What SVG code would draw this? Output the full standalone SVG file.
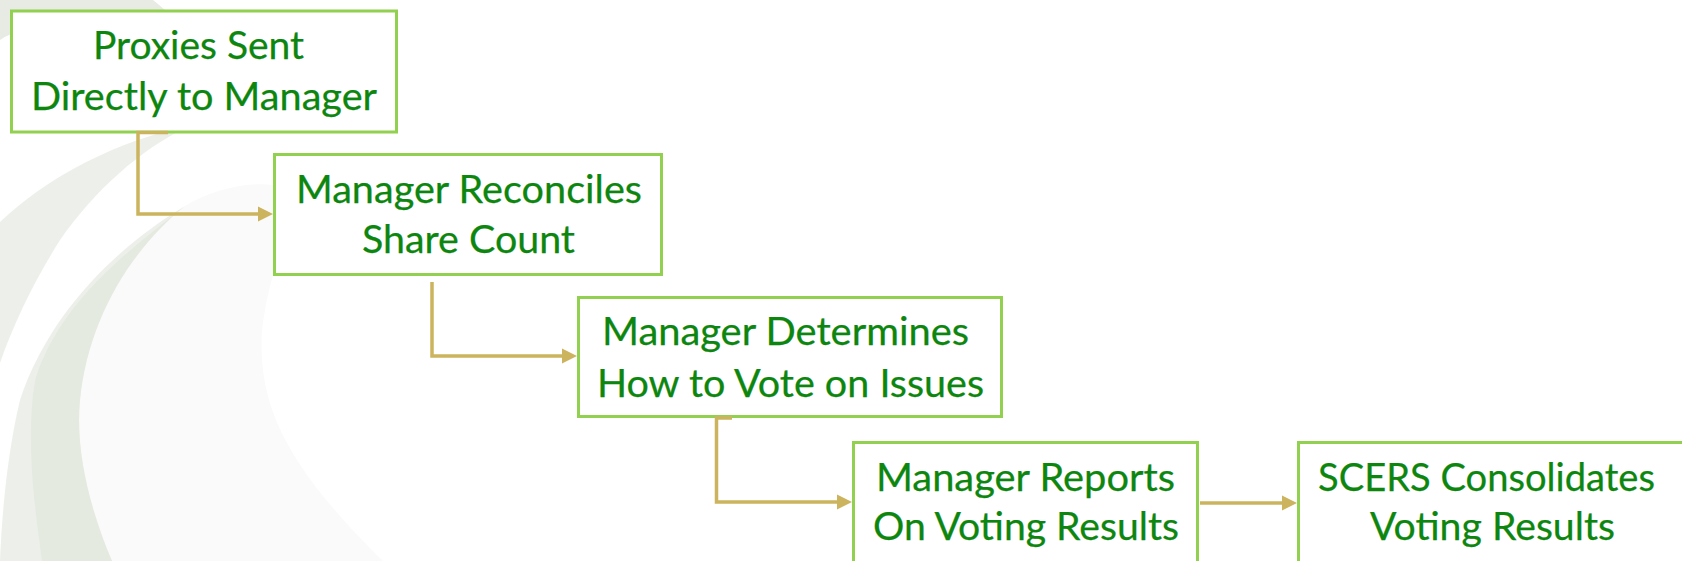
<svg xmlns="http://www.w3.org/2000/svg" width="1682" height="561" viewBox="0 0 1682 561">
  <style>
    .box { fill: #FFFFFF; stroke: #92D050; stroke-width: 3; }
    .lbl { font-family: Lato, "Open Sans", "Liberation Sans", sans-serif; font-size: 38px; fill: #0C860E; stroke: #0C860E; stroke-width: 0.25; }
    .conn { fill: none; stroke: #CCB45E; stroke-width: 3.5; }
  </style>
  <defs>
    <marker id="arrow" markerUnits="userSpaceOnUse" markerWidth="15" markerHeight="16" refX="0" refY="8" orient="auto">
      <path d="M0,0.5 L15,8 L0,15.5 Z" fill="#CCB45E"/>
    </marker>
  </defs>
  <rect x="0" y="0" width="1682" height="561" fill="#FFFFFF"/>
  <g id="background">
    <path d="M0,0 L153,0 C190,30 240,80 277,131 C250,108 215,85 173,57 C140,37 100,26 55,25 C30,26 12,32 0,40 Z" fill="#E7EBE3"/>
    <path d="M187,127 C140,135 60,165 0,222 L0,363 C15,320 35,280 60,240 C95,190 140,150 187,127 Z" fill="#EDF0EA"/>
    <path d="M185,206 C220,185 270,175 310,195 C285,230 268,280 262,330 C258,400 280,460 383,561 L112,561 C90,510 75,450 80,400 C88,320 130,250 185,206 Z" fill="#FAFAFA"/>
    <path d="M185,206 C120,245 50,310 20,400 C8,450 2,510 0,561 L112,561 C90,510 75,450 80,400 C88,320 130,250 185,206 Z" fill="#EDF0EA"/>
    <path d="M185,206 C130,250 60,300 35,380 C25,440 35,510 42,561 L112,561 C90,510 75,450 80,400 C88,320 130,250 185,206 Z" fill="#E5EAE0"/>
    <path d="M1600,561 C1630,548 1660,538 1682,530 L1682,561 Z" fill="#F3F4F2"/>
  </g>
  <g id="node1">
    <rect class="box" x="11.5" y="11" width="385" height="121"/>
    <text class="lbl" x="93" y="59" textLength="211" lengthAdjust="spacingAndGlyphs">Proxies Sent</text>
    <text class="lbl" x="31" y="110" textLength="346" lengthAdjust="spacingAndGlyphs">Directly to Manager</text>
  </g>
  <g id="node2">
    <rect class="box" x="274.5" y="154.5" width="387" height="120"/>
    <text class="lbl" x="296" y="203" textLength="346" lengthAdjust="spacingAndGlyphs">Manager Reconciles</text>
    <text class="lbl" x="362" y="252.5" textLength="213" lengthAdjust="spacingAndGlyphs">Share Count</text>
  </g>
  <g id="node3">
    <rect class="box" x="578.5" y="297.5" width="423" height="119"/>
    <text class="lbl" x="602" y="345" textLength="367" lengthAdjust="spacingAndGlyphs">Manager Determines</text>
    <text class="lbl" x="597" y="397" textLength="387" lengthAdjust="spacingAndGlyphs">How to Vote on Issues</text>
  </g>
  <g id="node4">
    <rect class="box" x="853.5" y="442.5" width="344" height="140"/>
    <text class="lbl" x="876" y="491" textLength="299" lengthAdjust="spacingAndGlyphs">Manager Reports</text>
    <text class="lbl" x="873" y="540" textLength="306" lengthAdjust="spacingAndGlyphs">On Voting Results</text>
  </g>
  <g id="node5">
    <rect class="box" x="1298.5" y="442.5" width="420" height="140"/>
    <text class="lbl" x="1318" y="491" textLength="337" lengthAdjust="spacingAndGlyphs">SCERS Consolidates</text>
    <text class="lbl" x="1370" y="540" textLength="245" lengthAdjust="spacingAndGlyphs">Voting Results</text>
  </g>
  <g id="connectors">
    <path class="conn" d="M168,132.5 H138 V214 H258" marker-end="url(#arrow)"/>
    <path class="conn" d="M432,282 V356 H562" marker-end="url(#arrow)"/>
    <path class="conn" d="M732,418 H716.5 V502 H837" marker-end="url(#arrow)"/>
    <path class="conn" d="M1200,503 H1282" marker-end="url(#arrow)"/>
  </g>
</svg>
